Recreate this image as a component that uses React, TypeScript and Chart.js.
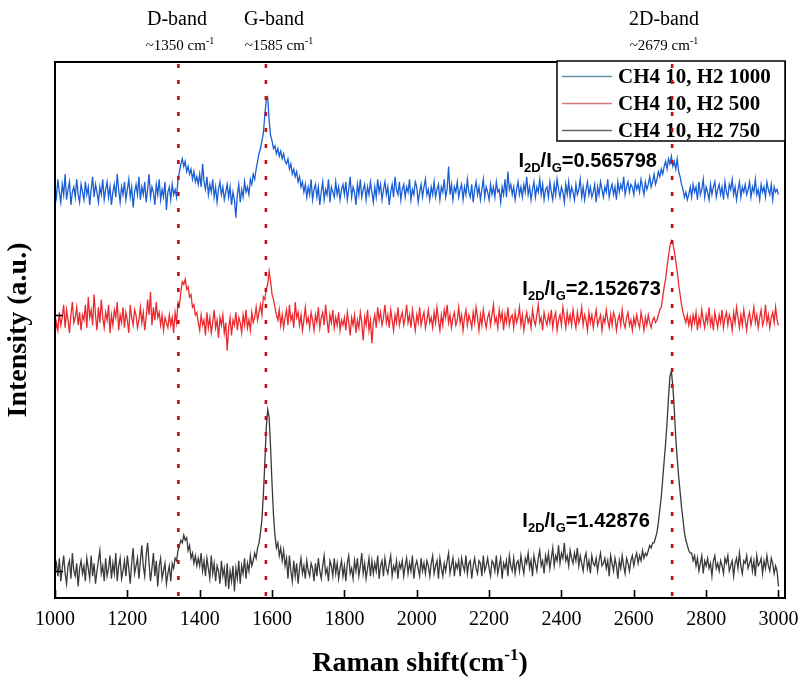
import React, { useEffect, useRef } from "react";
import { Chart, registerables } from "chart.js";
Chart.register(...registerables);

// Raman shift grid (cm-1): start and sampling step of the spectra
const SHIFT_START = 1000;
const SHIFT_STEP = 4;

// CH4 10, H2 1000 (blue)
const blueValues = [
  150, 146, 153, 148, 144, 151, 147, 155, 145, 149, 152, 143, 148, 150, 146, 153, 147, 144, 151, 148,
  145, 152, 147, 150, 143, 149, 154, 146, 151, 148, 144, 150, 147, 153, 145, 149, 152, 146, 150, 143,
  148, 151, 146, 155, 149, 144, 150, 147, 152, 145, 149, 153, 146, 150, 142, 148, 151, 147, 154, 145,
  150, 147, 152, 144, 149, 155, 146, 150, 148, 143, 151, 147, 153, 145, 149, 146, 152, 141, 148, 150,
  145, 151, 147, 149, 146, 153, 156, 159, 161, 158, 160, 156, 158, 155, 157, 153, 156, 152, 154, 151,
  155, 150, 159, 152, 149, 154, 147, 151, 148, 153, 146, 150, 144, 149, 152, 147, 150, 145, 148, 151,
  146, 150, 143, 148, 145, 138, 147, 151, 144, 149, 146, 152, 148, 150, 147, 153, 151, 155, 153, 157,
  160, 163, 165, 168, 171, 178, 184, 185, 176, 170, 168, 165, 166, 163, 165, 162, 164, 161, 163, 160,
  159, 161, 157, 159, 155, 157, 154, 156, 152, 154, 150, 152, 148, 151, 146, 150, 147, 153, 145, 149,
  151, 146, 150, 143, 148, 152, 145, 149, 147, 153, 144, 150, 148, 146, 152, 147, 150, 145, 149, 151,
  147, 152, 145, 149, 154, 146, 150, 148, 143, 151, 147, 153, 146, 149, 151, 145, 150, 147, 152, 148,
  144, 150, 146, 153, 148, 151, 145, 149, 152, 147, 150, 143, 148, 151, 146, 154, 149, 147, 152, 145,
  149, 151, 146, 150, 148, 153, 145, 149, 147, 152, 150, 144, 148, 151, 146, 150, 153, 147, 149, 145,
  150, 147, 152, 146, 149, 151, 145, 150, 148, 153, 146, 149, 158, 147, 151, 145, 150, 148, 152, 146,
  149, 151, 145, 150, 147, 153, 148, 146, 151, 144, 149, 152, 147, 150, 145, 149, 153, 146, 150, 148,
  145, 151, 147, 150, 146, 152, 148, 149, 144, 150, 147, 153, 146, 156, 149, 151, 147, 150, 145, 149,
  152, 147, 150, 146, 151, 148, 154, 147, 150, 145, 149, 152, 146, 150, 148, 153, 147, 151, 145, 149,
  150, 146, 152, 148, 145, 151, 147, 153, 149, 146, 150, 148, 144, 151, 147, 152, 146, 150, 148, 145,
  151, 147, 149, 153, 146, 150, 145, 149, 152, 147, 150, 146, 148, 151, 144, 150, 147, 152, 149, 146,
  150, 148, 153, 146, 149, 151, 147, 150, 145, 152, 148, 151, 149, 154, 147, 150, 152, 148, 151, 150,
  147, 152, 149, 151, 148, 153, 150, 147, 152, 149, 151, 154, 150, 152, 155, 151, 153, 156, 154, 157,
  155, 158, 160, 157, 161, 159, 162, 158, 160, 157, 161, 156, 154, 151, 149, 146, 148, 145, 147, 150,
  146, 151, 148, 150, 145, 152, 147, 149, 153, 146, 150, 148, 145, 151, 147, 150, 152, 146, 149, 151,
  147, 150, 145, 152, 148, 146, 151, 149, 153, 147, 150, 145, 149, 152, 146, 150, 148, 151, 147, 149,
  152, 146, 150, 148, 153, 147, 149, 145, 151, 148, 150, 146, 152, 149, 147, 151, 145, 150, 148, 149,
  147,
];

// CH4 10, H2 500 (red)
const redValues = [
  92, 97, 94, 101, 96, 99, 104, 95, 102, 98, 93, 100, 105, 97, 99, 103, 96, 101, 94, 100,
  98, 104, 95, 107, 99, 102, 96, 108, 100, 94, 103, 97, 106, 99, 95, 101, 98, 104, 93, 100,
  96, 102, 99, 105, 94, 100, 97, 103, 95, 101, 98, 93, 104, 99, 96, 102, 100, 95, 98, 103,
  97, 101, 94, 99, 106, 100, 109, 96, 103, 98, 105, 99, 101, 96, 100, 94, 99, 97, 95, 100,
  96, 99, 93, 101, 97, 105, 104, 109, 113, 112, 114, 110, 111, 107, 108, 103, 104, 100, 101, 97,
  94, 100, 96, 98, 92, 101, 95, 99, 93, 97, 102, 95, 98, 91, 99, 96, 100, 93, 97, 86,
  95, 99, 92, 98, 96, 101, 94, 99, 97, 93, 100, 96, 102, 95, 98, 94, 101, 97, 99, 103,
  98, 101, 104, 100, 107, 106, 110, 112, 117, 113, 108, 106, 103, 100, 98, 102, 96, 100, 95, 99,
  102, 96, 104, 98, 100, 95, 105, 99, 101, 96, 100, 94, 98, 103, 97, 99, 95, 101, 98, 94,
  100, 97, 103, 95, 99, 101, 96, 104, 98, 93, 100, 97, 102, 95, 99, 96, 101, 94, 98, 96,
  99, 94, 101, 97, 92, 99, 96, 100, 93, 98, 95, 101, 97, 90, 99, 96, 102, 94, 98, 89,
  97, 100, 95, 103, 98, 101, 96, 99, 104, 97, 100, 95, 102, 98, 94, 100, 97, 103, 96, 99,
  101, 96, 99, 104, 97, 100, 95, 102, 98, 94, 100, 97, 103, 96, 99, 101, 95, 98, 102, 97,
  99, 95, 101, 97, 103, 98, 94, 100, 96, 102, 99, 104, 97, 100, 95, 99, 101, 96, 98, 103,
  97, 100, 94, 99, 102, 96, 100, 98, 95, 101, 97, 103, 99, 94, 100, 96, 102, 98, 95, 99,
  101, 96, 100, 104, 97, 99, 95, 102, 98, 101, 94, 100, 97, 103, 96, 99, 100, 95, 101, 97,
  99, 103, 96, 100, 94, 98, 101, 97, 99, 95, 102, 98, 96, 100, 104, 97, 99, 94, 101, 98,
  96, 100, 97, 102, 95, 99, 101, 94, 98, 100, 96, 103, 99, 95, 101, 97, 100, 96, 102, 98,
  95, 101, 97, 99, 103, 96, 100, 98, 94, 101, 97, 100, 95, 99, 102, 96, 98, 100, 94, 99,
  97, 102, 98, 95, 100, 96, 101, 99, 94, 98, 100, 96, 102, 97, 95, 99, 101, 96, 98, 94,
  99, 96, 100, 97, 95, 101, 98, 94, 99, 96, 100, 97, 95, 98, 99, 97, 98, 100, 102, 103,
  107, 111, 114, 119, 123, 127, 129, 128, 125, 121, 117, 112, 108, 104, 101, 99, 97, 100, 96, 99,
  95, 100, 97, 101, 94, 99, 96, 102, 98, 95, 100, 97, 103, 96, 99, 94, 101, 98, 95, 100,
  97, 102, 95, 99, 101, 96, 100, 98, 94, 101, 97, 103, 99, 95, 100, 96, 102, 98, 94, 99,
  101, 96, 99, 103, 97, 100, 95, 99, 102, 96, 98, 104, 97, 100, 95, 99, 101, 97, 103, 98,
  96,
];

// CH4 10, H2 750 (black)
const blackValues = [
  0, 3, -2, 5, -4, 1, 6, -1, -5, 2, 4, -3, 7, 0, -2, 3, -6, 1, 4, -1,
  2, -4, 5, 1, -3, 6, -2, 3, -5, 0, 4, 8, -1, 2, -4, 5, -2, 1, 6, -3,
  3, -1, 7, -4, 2, 5, -3, 0, 4, -2, 6, 1, -5, 3, 9, -1, 2, 5, -3, 4,
  10, 2, -2, 6, 11, 3, -4, 1, 7, -2, 4, -6, 2, 5, -3, 0, 3, -5, -1, 2,
  -4, 3, 1, 5, 4, 8, 10, 12, 11, 14, 12, 13, 8, 10, 5, 7, 3, 6, 2, 5,
  2, 7, 0, 4, -2, 5, 1, -3, 6, -1, 3, -4, 2, 0, -5, 4, -2, 1, -6, 3,
  -7, 0, -4, 2, -8, 1, -3, 4, -5, 2, -1, 5, -3, 3, 0, 6, 2, 4, 7, 5,
  9, 11, 15, 20, 30, 42, 56, 63, 60, 48, 34, 22, 14, 9, 11, 6, 9, 4, 8, 2,
  5, -3, 6, 0, -4, 4, -2, 3, -5, 1, 5, -1, 2, -3, 4, 0, -2, 3, 1, -4,
  3, -2, 5, 0, -3, 2, 6, -1, 1, -4, 4, 2, -2, 5, -1, 3, -3, 1, 4, -2,
  2, -4, 3, 6, -1, 1, -3, 4, 0, 5, -2, 2, 7, -1, 3, -3, 1, 5, -2, 4,
  -1, 3, 0, 6, -3, 2, 4, -2, 5, 1, -1, 3, 6, -2, 2, 0, 4, -3, 3, 1,
  4, -2, 2, 5, -1, 3, 0, 6, -3, 2, 4, 1, -2, 5, 0, 3, -1, 4, 2, -2,
  3, 6, -1, 2, 4, -3, 5, 1, -2, 3, 0, 4, 7, -1, 2, 5, -2, 3, 1, 4,
  -2, 5, 2, 0, 6, -1, 3, 4, -3, 2, 5, 1, -1, 4, 3, -2, 6, 0, 2, 5,
  1, -2, 4, 3, 0, 6, -1, 2, 5, -3, 3, 1, 4, -2, 6, 2, 0, 5, -1, 3,
  4, 0, 6, 2, -1, 5, 3, 7, 1, 4, -2, 6, 3, 0, 5, 8, 2, 4, -1, 6,
  3, 7, 1, 5, 9, 2, 6, 4, 10, 3, 7, 5, 11, 4, 6, 2, 8, 5, 3, 7,
  4, 9, 2, 6, 3, 0, 5, 7, 1, 4, -1, 6, 3, 2, 5, 0, 4, 7, 2, 3,
  5, 1, 4, -2, 6, 3, 0, 5, 2, -3, 4, 1, 6, 2, -1, 5, 3, 0, 4, 6,
  2, 5, 7, 3, 6, 4, 8, 5, 7, 6, 8, 10, 9, 11, 11, 13, 15, 19, 24, 29,
  36, 43, 50, 58, 68, 76, 78, 72, 63, 52, 44, 37, 31, 25, 20, 15, 12, 10, 8, 7,
  7, 4, 6, 2, 5, 0, 3, 6, -1, 4, 2, 5, 1, 3, -2, 4, 6, 1, 3, 0,
  4, 2, -1, 5, 3, 6, 0, 2, 4, -2, 3, 5, 1, 7, 2, -1, 4, 3, 6, 1,
  3, 5, 0, 4, -2, 6, 2, 3, 5, -1, 4, 1, 6, 2, 0, 5, 3, -1, 2, 0,
  -6,
];

const seriesLabels = ["CH4 10, H2 1000", "CH4 10, H2 500", "CH4 10, H2 750"];
const seriesColors = ["#1a5ed6", "#ec2a2e", "#3a3a3a"];
const legendColors = ["#5f92ad", "#d47878", "#666666"];

const bandNames = ["D-band", "G-band", "2D-band"];
const bandWavenumbers = ["~1350", "~1585", "~2679"];
const bandLinePositions = [1341, 1583, 2706];

const ratioValues = ["0.565798", "2.152673", "1.42876"];

const xTickValues = [1000, 1200, 1400, 1600, 1800, 2000, 2200, 2400, 2600, 2800, 3000];
const yTickValues = [0, 100];

const SERIF = "'Liberation Serif', 'Times New Roman', serif";
const SANS = "'Liberation Sans', Arial, sans-serif";

type Part = { text: string; font: string; dy?: number };

function drawRich(ctx: CanvasRenderingContext2D, parts: Part[], x: number, y: number, align: "left" | "center") {
  let total = 0;
  const widths = parts.map((p) => {
    ctx.font = p.font;
    const w = ctx.measureText(p.text).width;
    total += w;
    return w;
  });
  let cx = align === "center" ? x - total / 2 : x;
  ctx.textAlign = "left";
  ctx.textBaseline = "alphabetic";
  parts.forEach((p, i) => {
    ctx.font = p.font;
    ctx.fillText(p.text, cx, y + (p.dy || 0));
    cx += widths[i];
  });
}

const decorPlugin = {
  id: "decor",
  afterDatasetsDraw(chart: any) {
    const { ctx, chartArea: a, scales } = chart;
    const x = scales.x;
    const y = scales.y;
    ctx.save();
    ctx.fillStyle = "#000";
    ctx.strokeStyle = "#000";

    // frame
    ctx.lineWidth = 2;
    ctx.strokeRect(a.left, a.top, a.right - a.left, a.bottom - a.top);

    // inward ticks
    ctx.lineWidth = 1.6;
    xTickValues.forEach((v) => {
      const px = Math.round(x.getPixelForValue(v)) + 0.5;
      ctx.beginPath();
      ctx.moveTo(px, a.bottom);
      ctx.lineTo(px, a.bottom - 8);
      ctx.stroke();
    });
    yTickValues.forEach((v) => {
      const py = Math.round(y.getPixelForValue(v)) + 0.5;
      ctx.beginPath();
      ctx.moveTo(a.left, py);
      ctx.lineTo(a.left + 8, py);
      ctx.stroke();
    });

    // ratio annotations
    const ratioAnchors = [
      { x: 2281, y: 157.8 },
      { x: 2292, y: 107.8 },
      { x: 2292, y: 17.2 },
    ];
    ctx.fillStyle = "#000";
    ratioValues.forEach((val, i) => {
      const px = x.getPixelForValue(ratioAnchors[i].x);
      const py = y.getPixelForValue(ratioAnchors[i].y);
      drawRich(
        ctx,
        [
          { text: "I", font: `bold 20px ${SANS}` },
          { text: "2D", font: `bold 13px ${SANS}`, dy: 5 },
          { text: "/I", font: `bold 20px ${SANS}` },
          { text: "G", font: `bold 13px ${SANS}`, dy: 5 },
          { text: "=" + val, font: `bold 20px ${SANS}` },
        ],
        px,
        py,
        "left"
      );
    });

    // legend
    const lx = 557, ly = 61, lw = a.right - 557, lh = 80;
    ctx.fillStyle = "#fff";
    ctx.fillRect(lx, ly, lw, lh);
    ctx.lineWidth = 1.5;
    ctx.strokeStyle = "#000";
    ctx.strokeRect(lx, ly, lw, lh);
    seriesLabels.forEach((lab, i) => {
      const cy = 76 + i * 27;
      ctx.strokeStyle = legendColors[i];
      ctx.lineWidth = 1.4;
      ctx.beginPath();
      ctx.moveTo(562, cy + 0.5);
      ctx.lineTo(612, cy + 0.5);
      ctx.stroke();
      ctx.fillStyle = "#000";
      ctx.font = `bold 21px ${SERIF}`;
      ctx.textAlign = "left";
      ctx.textBaseline = "alphabetic";
      ctx.fillText(lab, 618, cy + 7);
    });

    // dotted band lines
    ctx.strokeStyle = "#c0101a";
    ctx.lineWidth = 2.6;
    ctx.setLineDash([4, 12]);
    bandLinePositions.forEach((v) => {
      const px = x.getPixelForValue(v);
      ctx.beginPath();
      ctx.moveTo(px, a.top + 2);
      ctx.lineTo(px, a.bottom);
      ctx.stroke();
    });
    ctx.setLineDash([]);

    // band labels above the plot
    ctx.fillStyle = "#000";
    const nameX = [177, 274, 664];
    const waveX = [180, 279, 664];
    bandNames.forEach((n, i) => {
      drawRich(ctx, [{ text: n, font: `20px ${SERIF}` }], nameX[i], 25, "center");
      drawRich(
        ctx,
        [
          { text: bandWavenumbers[i] + " cm", font: `15px ${SERIF}` },
          { text: "-1", font: `10px ${SERIF}`, dy: -6 },
        ],
        waveX[i],
        50,
        "center"
      );
    });

    // axis titles
    drawRich(
      ctx,
      [
        { text: "Raman shift(cm", font: `bold 28px ${SERIF}` },
        { text: "-1", font: `bold 17px ${SERIF}`, dy: -11 },
        { text: ")", font: `bold 28px ${SERIF}` },
      ],
      (a.left + a.right) / 2,
      671,
      "center"
    );
    ctx.save();
    ctx.translate(26, (a.top + a.bottom) / 2);
    ctx.rotate(-Math.PI / 2);
    drawRich(ctx, [{ text: "Intensity (a.u.)", font: `bold 28px ${SERIF}` }], 0, 0, "center");
    ctx.restore();

    ctx.restore();
  },
};

export default function App() {
  const ref = useRef<HTMLCanvasElement | null>(null);
  useEffect(() => {
    if (!ref.current) return;
    const toPoints = (vals: number[]) =>
      vals.map((v, i) => ({ x: SHIFT_START + SHIFT_STEP * i, y: v }));
    const allValues = [blueValues, redValues, blackValues];
    const chart = new Chart(ref.current, {
      type: "line",
      data: {
        datasets: allValues.map((vals, i) => ({
          label: seriesLabels[i],
          data: toPoints(vals),
          borderColor: seriesColors[i],
          borderWidth: 1.3,
          pointRadius: 0,
          tension: 0,
          fill: false,
        })),
      },
      options: {
        animation: false,
        responsive: false,
        devicePixelRatio: 1,
        layout: { padding: { left: 55, right: 15, top: 62, bottom: 0 } },
        plugins: { legend: { display: false }, tooltip: { enabled: false } },
        scales: {
          x: {
            type: "linear",
            min: 1000,
            max: 3018,
            grid: { display: false, drawTicks: false },
            border: { display: false },
            afterBuildTicks: (scale: any) => {
              scale.ticks = xTickValues.map((v) => ({ value: v }));
            },
            afterFit: (scale: any) => {
              scale.height = 82;
              scale.paddingLeft = 0;
              scale.paddingRight = 0;
            },
            ticks: {
              color: "#000",
              padding: 10,
              maxRotation: 0,
              autoSkip: false,
              font: { family: SERIF, size: 20 },
              callback: (v: any) => String(v),
            },
          },
          y: {
            display: false,
            min: -10.55,
            max: 198.8,
          },
        },
      },
      plugins: [decorPlugin],
    });
    return () => chart.destroy();
  }, []);
  return (
    <div style={{ position: "absolute", left: 0, top: 0, width: 800, height: 680, background: "#fff" }}>
      <canvas ref={ref} width={800} height={680} />
    </div>
  );
}
